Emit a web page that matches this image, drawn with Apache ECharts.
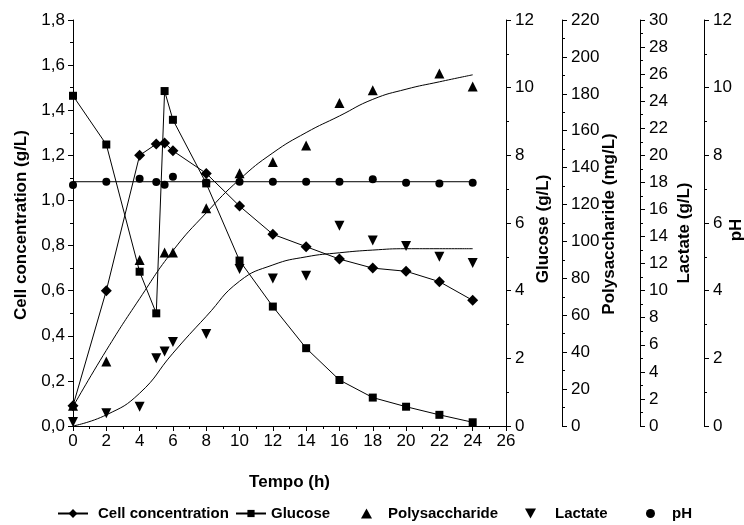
<!DOCTYPE html>
<html>
<head>
<meta charset="utf-8">
<script src="https://cdn.jsdelivr.net/npm/echarts@6/dist/echarts.min.js"></script>
<style>html,body{margin:0;padding:0;background:#fff}#c{width:744px;height:525px}</style>
</head>
<body>
<div id="c"></div>
<script>
// ---- data ----
var time = [0, 2, 4, 5, 5.5, 6, 8, 10, 12, 14, 16, 18, 20, 22, 24];
var cellConc = [0.09, 0.60, 1.20, 1.25, 1.255, 1.22, 1.12, 0.975, 0.85, 0.795, 0.74, 0.70, 0.686, 0.64, 0.557];
var glucose = [9.76, 8.32, 4.56, 3.33, 9.90, 9.05, 7.17, 4.89, 3.53, 2.30, 1.36, 0.84, 0.57, 0.33, 0.11];
var polyTime = [0, 2, 4, 5.5, 6, 8, 10, 12, 14, 16, 18, 22, 24];
var polysaccharide = [11, 35, 90, 94, 94, 118, 137, 143, 152, 175, 182, 191, 184];
var lactate = [0.3, 0.94, 1.43, 5.0, 5.5, 6.2, 6.8, 11.6, 10.9, 11.1, 14.8, 13.7, 13.3, 12.5, 12.05];
var pH = [7.12, 7.22, 7.31, 7.21, 7.13, 7.37, 7.2, 7.22, 7.22, 7.22, 7.22, 7.29, 7.19, 7.17, 7.19];
var fitTime = [0, 2, 4, 6, 8, 10, 12, 14, 16, 18, 20, 22, 24];
var polyFit = [10.5, 41, 69, 95, 115.5, 133.6, 148, 159, 168, 177, 182.5, 186.5, 190.3];
var lactFit = [0, 0.82, 2.42, 5.38, 8.1, 10.7, 11.9, 12.5, 12.8, 13.0, 13.1, 13.1, 13.1];
var pHFitTime = [0, 24];
var pHFit = [7.22, 7.22];

function pairs(xs, ys) { return xs.map(function (x, i) { return [x, ys[i]]; }); }

var FONT = 'Liberation Sans, Arial, sans-serif';
var black = '#000';

function yAx(o) {
  var base = {
    type: 'value',
    position: 'right',
    splitLine: { show: false },
    axisLine: { show: true, lineStyle: { color: black, width: 1 } },
    axisTick: { show: true, length: 5, lineStyle: { color: black } },
    minorTick: { show: true, splitNumber: 2, length: 3, lineStyle: { color: black } },
    axisLabel: { color: black, fontSize: 17, fontFamily: FONT, margin: 9 },
    nameLocation: 'middle',
    nameMoveOverlap: false,
    nameTextStyle: { color: black, fontSize: 17, fontWeight: 'bold', fontFamily: FONT }
  };
  for (var k in o) base[k] = o[k];
  return base;
}
function nameStyle(pad) {
  return { color: black, fontSize: 17, fontWeight: 'bold', fontFamily: FONT, padding: pad };
}

var chart = echarts.init(document.getElementById('c'), null, { renderer: 'canvas' });
var lineCommon = { color: black, width: 1 };
var legendText = function (padLeft) {
  return { color: black, fontSize: 15, fontWeight: 'bold', fontFamily: FONT, padding: [0, 0, 0, padLeft] };
};

chart.setOption({
  animation: false,
  backgroundColor: '#fff',
  textStyle: { fontFamily: FONT },
  grid: { left: 73, right: 238, top: 20, bottom: 99, containLabel: false, outerBoundsMode: 'none' },
  xAxis: {
    type: 'value', min: 0, max: 26, interval: 2,
    splitLine: { show: false },
    axisLine: { show: true, onZero: false, lineStyle: { color: black } },
    axisTick: { length: 5, lineStyle: { color: black } },
    minorTick: { show: true, splitNumber: 2, length: 3, lineStyle: { color: black } },
    axisLabel: { color: black, fontSize: 17, fontFamily: FONT, margin: 7 },
    name: 'Tempo (h)', nameLocation: 'middle', nameGap: 48, nameMoveOverlap: false,
    nameTextStyle: { color: black, fontSize: 17, fontWeight: 'bold', fontFamily: FONT }
  },
  yAxis: [
    yAx({ position: 'left', min: 0, max: 1.8, interval: 0.2, name: 'Cell concentration (g/L)', nameGap: 43,
          nameTextStyle: nameStyle([0, 4, 0, 0]),
          axisLabel: { color: black, fontSize: 17, fontFamily: FONT, margin: 8,
                       formatter: function (v) { return v.toFixed(1).replace('.', ','); } } }),
    yAx({ min: 0, max: 12, interval: 2, offset: 0, name: 'Glucose (g/L)', nameGap: 29,
          nameTextStyle: nameStyle([0, 12, 0, 0]) }),
    yAx({ min: 0, max: 220, interval: 20, offset: 56, name: 'Polysaccharide (mg/L)', nameGap: 39,
          nameTextStyle: nameStyle([0, 2, 0, 0]) }),
    yAx({ min: 0, max: 30, interval: 2, offset: 134, name: 'Lactate (g/L)', nameGap: 36,
          nameTextStyle: nameStyle([0, 20, 0, 0]) }),
    yAx({ min: 0, max: 12, interval: 2, offset: 198, name: 'pH', nameGap: 24,
          nameTextStyle: nameStyle([0, 14, 0, 0]) })
  ],
  legend: [
    { data: ['Cell concentration'], left: 57, itemWidth: 30, itemHeight: 11, textStyle: legendText(5) },
    { data: ['Glucose'], left: 235, itemWidth: 30, itemHeight: 9, textStyle: legendText(0) },
    { data: [{ name: 'Polysaccharide', icon: 'triangle' }], left: 361, itemWidth: 11, itemHeight: 10, textStyle: legendText(11) },
    { data: [{ name: 'Lactate', icon: 'path://M0,0L10,0L5,9Z' }], left: 525, itemWidth: 11, itemHeight: 10, textStyle: legendText(14) },
    { data: [{ name: 'pH', icon: 'circle' }], left: 646, itemWidth: 9, itemHeight: 9, textStyle: legendText(12) }
  ].map(function (l) {
    l.top = 506; l.selectedMode = false; l.padding = 0;
    return l;
  }),
  series: [
    { name: 'Cell concentration', type: 'line', yAxisIndex: 0, data: pairs(time, cellConc),
      symbol: 'diamond', symbolSize: 11, showAllSymbol: true,
      lineStyle: lineCommon, itemStyle: { color: black } },
    { name: 'Glucose', type: 'line', yAxisIndex: 1, data: pairs(time, glucose),
      symbol: 'rect', symbolSize: 8, showAllSymbol: true,
      lineStyle: lineCommon, itemStyle: { color: black } },
    { name: 'Polysaccharide', type: 'scatter', yAxisIndex: 2, data: pairs(polyTime, polysaccharide),
      symbol: 'triangle', symbolSize: 10, itemStyle: { color: black, opacity: 1 } },
    { name: 'polyFit', type: 'line', yAxisIndex: 2, data: pairs(fitTime, polyFit),
      smooth: true, showSymbol: false, symbol: 'none', lineStyle: lineCommon, silent: true },
    { name: 'Lactate', type: 'scatter', yAxisIndex: 3, data: pairs(time, lactate),
      symbol: 'triangle', symbolRotate: 180, symbolSize: 10, itemStyle: { color: black, opacity: 1 } },
    { name: 'lactFit', type: 'line', yAxisIndex: 3, data: pairs(fitTime, lactFit),
      smooth: true, showSymbol: false, symbol: 'none', lineStyle: lineCommon, silent: true },
    { name: 'pH', type: 'scatter', yAxisIndex: 4, data: pairs(time, pH),
      symbol: 'circle', symbolSize: 8, itemStyle: { color: black, opacity: 1 } },
    { name: 'pHFit', type: 'line', yAxisIndex: 4, data: pairs(pHFitTime, pHFit),
      showSymbol: false, symbol: 'none', lineStyle: lineCommon, silent: true }
  ]
});
</script>
</body>
</html>
